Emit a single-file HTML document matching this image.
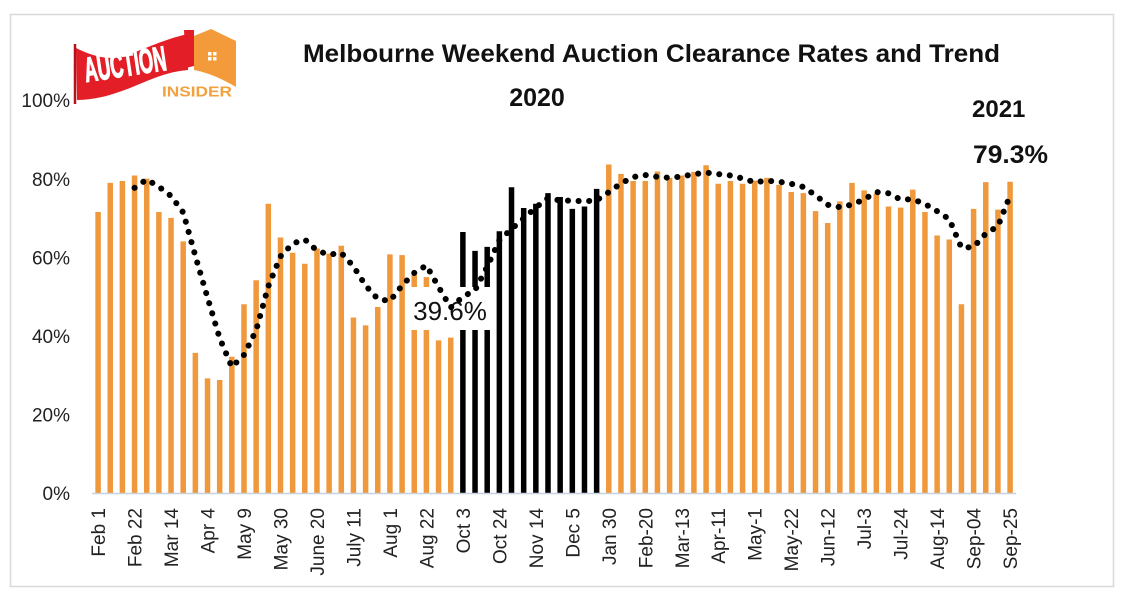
<!DOCTYPE html>
<html><head><meta charset="utf-8"><style>
html,body{margin:0;padding:0;background:#fff;}
svg{display:block;font-family:"Liberation Sans",Arial,sans-serif;}
</style></head><body>
<svg width="1130" height="602" viewBox="0 0 1130 602" xmlns="http://www.w3.org/2000/svg">
<rect x="0" y="0" width="1130" height="602" fill="#fff"/>
<rect x="10.5" y="14.5" width="1103" height="572" fill="none" stroke="#D9D9D9" stroke-width="1.5"/>
<g>
<path d="M76,48 C90,55 105,60 120,57 C140,52 160,40 188,34 L188,70 C165,72 150,80 130,88 C112,95 95,100 77,100 Z" fill="#E41E26"/>
<line x1="75" y1="44" x2="75" y2="104" stroke="#B3141B" stroke-width="2.5"/>
<path d="M184,30 L194,30 L194,66 L186,68 Z" fill="#E41E26"/>
<path d="M194,36 L211,29 L236,41 L236,87 C224,80 210,73 194,70 Z" fill="#F39B3A"/>
<path d="M208,52h3.5v3.5h-3.5zM213,52h3.5v3.5h-3.5zM208,57h3.5v3.5h-3.5zM213,57h3.5v3.5h-3.5z" fill="#fff"/>
<text transform="translate(86,82) rotate(-8.5) scale(0.55,1.05)" font-size="33" font-weight="bold" fill="#fff" stroke="#fff" stroke-width="1.2">AUCTION</text>
<text x="162" y="96.5" font-size="15" font-weight="bold" fill="#F2A13F" textLength="70" lengthAdjust="spacingAndGlyphs">INSIDER</text>
</g>
<text x="303" y="62" font-size="25" font-weight="bold" fill="#111" textLength="697" lengthAdjust="spacingAndGlyphs">Melbourne Weekend Auction Clearance Rates and Trend</text>
<text x="537" y="106" font-size="25" font-weight="bold" fill="#111" text-anchor="middle">2020</text>
<text x="972" y="117" font-size="24" font-weight="bold" fill="#111">2021</text>
<text x="973" y="163" font-size="25" font-weight="bold" fill="#111" textLength="75" lengthAdjust="spacingAndGlyphs">79.3%</text>
<g font-size="19" fill="#222" text-anchor="end">
<text x="70" y="107">100%</text>
<text x="70" y="186">80%</text>
<text x="70" y="264.5">60%</text>
<text x="70" y="343">40%</text>
<text x="70" y="421.5">20%</text>
<text x="70" y="500">0%</text>
</g>
<g transform="translate(98.08,493) scale(12.16,-3.925)">
<path fill="#F0983C" d="M-0.226 0h0.452v71.6h-0.452z M0.774 0h0.452v79h-0.452z M1.774 0h0.452v79.5h-0.452z M2.774 0h0.452v80.9h-0.452z M3.774 0h0.452v80.1h-0.452z M4.774 0h0.452v71.6h-0.452z M5.774 0h0.452v70.1h-0.452z M6.774 0h0.452v64.1h-0.452z M7.774 0h0.452v35.7h-0.452z M8.774 0h0.452v29.2h-0.452z M9.774 0h0.452v28.8h-0.452z M10.774 0h0.452v34.7h-0.452z M11.774 0h0.452v48.1h-0.452z M12.774 0h0.452v54.2h-0.452z M13.774 0h0.452v73.7h-0.452z M14.774 0h0.452v65.1h-0.452z M15.774 0h0.452v61.2h-0.452z M16.774 0h0.452v58.4h-0.452z M17.774 0h0.452v62.3h-0.452z M18.774 0h0.452v61h-0.452z M19.774 0h0.452v63h-0.452z M20.774 0h0.452v44.7h-0.452z M21.774 0h0.452v42.7h-0.452z M22.774 0h0.452v47.4h-0.452z M23.774 0h0.452v60.8h-0.452z M24.774 0h0.452v60.6h-0.452z M25.774 0h0.452v55.5h-0.452z M26.774 0h0.452v55h-0.452z M27.774 0h0.452v38.9h-0.452z M28.774 0h0.452v39.6h-0.452z M41.774 0h0.452v83.7h-0.452z M42.774 0h0.452v81.3h-0.452z M43.774 0h0.452v79.5h-0.452z M44.774 0h0.452v79.5h-0.452z M45.774 0h0.452v81.9h-0.452z M46.774 0h0.452v80.3h-0.452z M47.774 0h0.452v80.9h-0.452z M48.774 0h0.452v81.8h-0.452z M49.774 0h0.452v83.5h-0.452z M50.774 0h0.452v78.8h-0.452z M51.774 0h0.452v79.5h-0.452z M52.774 0h0.452v78.8h-0.452z M53.774 0h0.452v79.6h-0.452z M54.774 0h0.452v80.3h-0.452z M55.774 0h0.452v78.5h-0.452z M56.774 0h0.452v76.7h-0.452z M57.774 0h0.452v76.4h-0.452z M58.774 0h0.452v71.8h-0.452z M59.774 0h0.452v68.8h-0.452z M60.774 0h0.452v74.3h-0.452z M61.774 0h0.452v79h-0.452z M62.774 0h0.452v77.1h-0.452z M63.774 0h0.452v76.3h-0.452z M64.774 0h0.452v73h-0.452z M65.774 0h0.452v72.7h-0.452z M66.774 0h0.452v77.3h-0.452z M67.774 0h0.452v71.6h-0.452z M68.774 0h0.452v65.6h-0.452z M69.774 0h0.452v64.6h-0.452z M70.774 0h0.452v48.1h-0.452z M71.774 0h0.452v72.4h-0.452z M72.774 0h0.452v79.2h-0.452z M73.774 0h0.452v72.2h-0.452z M74.774 0h0.452v79.3h-0.452z"/>
<path fill="#000" d="M29.774 0h0.452v66.5h-0.452z M30.774 0h0.452v61.7h-0.452z M31.774 0h0.452v62.7h-0.452z M32.774 0h0.452v66.7h-0.452z M33.774 0h0.452v77.9h-0.452z M34.774 0h0.452v72.6h-0.452z M35.774 0h0.452v73.7h-0.452z M36.774 0h0.452v76.4h-0.452z M37.774 0h0.452v75.4h-0.452z M38.774 0h0.452v72.4h-0.452z M39.774 0h0.452v73h-0.452z M40.774 0h0.452v77.5h-0.452z"/>
</g>
<line x1="92" y1="493.5" x2="1016" y2="493.5" stroke="#C8D2DE" stroke-width="1.5"/>
<rect x="410" y="287" width="80" height="43" fill="#fff"/>
<text x="450" y="320" font-size="26" fill="#111" text-anchor="middle">39.6%</text>
<polyline fill="none" stroke="#000" stroke-width="6" stroke-linecap="round" stroke-linejoin="round" stroke-dasharray="0.1 10.5" points="134.56,187.83 146.72,179.49 158.88,186.75 171.04,195.98 183.2,212.46 195.36,256.03 207.52,297.63 219.68,338.16 231.84,367.01 244,354.84 256.16,330.31 268.32,286.25 280.48,256.42 292.64,243.57 304.8,239.44 316.96,250.63 329.12,254.65 341.28,252.89 353.44,266.33 365.6,285.56 377.76,298.91 389.92,301.07 402.08,285.47 414.24,272.91 426.4,265.45 438.56,286.94 450.72,307.54 462.88,296.75 475.04,290.18 487.2,266.82 499.36,240.23 511.52,229.04 523.68,218.35 535.84,207.55 548,198.04 560.16,200.49 572.32,200.69 584.48,201.37 596.64,200.29 608.8,192.15 620.96,183.42 633.12,177.04 645.28,175.07 657.44,176.84 669.6,177.82 681.76,176.45 693.92,174.19 706.08,172.62 718.24,174.09 730.4,175.47 742.56,178.41 754.72,182.24 766.88,180.77 779.04,181.75 791.2,183.81 803.36,186.95 815.52,195.29 827.68,204.81 839.84,207.16 852,204.61 864.16,199.41 876.32,192.05 888.48,193.33 900.64,199.51 912.8,199.31 924.96,203.92 937.12,211.18 949.28,219.13 961.44,247.79 973.6,247 985.76,233.66 997.92,226.2 1010.08,195.58"/>
<g font-size="19" fill="#222" text-anchor="end">
<text transform="translate(105.1,508) rotate(-90)">Feb 1</text>
<text transform="translate(141.6,508) rotate(-90)">Feb 22</text>
<text transform="translate(178,508) rotate(-90)">Mar 14</text>
<text transform="translate(214.5,508) rotate(-90)">Apr 4</text>
<text transform="translate(251,508) rotate(-90)">May 9</text>
<text transform="translate(287.5,508) rotate(-90)">May 30</text>
<text transform="translate(324,508) rotate(-90)">June 20</text>
<text transform="translate(360.4,508) rotate(-90)">July 11</text>
<text transform="translate(396.9,508) rotate(-90)">Aug 1</text>
<text transform="translate(433.4,508) rotate(-90)">Aug 22</text>
<text transform="translate(469.9,508) rotate(-90)">Oct 3</text>
<text transform="translate(506.4,508) rotate(-90)">Oct 24</text>
<text transform="translate(542.8,508) rotate(-90)">Nov 14</text>
<text transform="translate(579.3,508) rotate(-90)">Dec 5</text>
<text transform="translate(615.8,508) rotate(-90)">Jan 30</text>
<text transform="translate(652.3,508) rotate(-90)">Feb-20</text>
<text transform="translate(688.8,508) rotate(-90)">Mar-13</text>
<text transform="translate(725.2,508) rotate(-90)">Apr-11</text>
<text transform="translate(761.7,508) rotate(-90)">May-1</text>
<text transform="translate(798.2,508) rotate(-90)">May-22</text>
<text transform="translate(834.7,508) rotate(-90)">Jun-12</text>
<text transform="translate(871.2,508) rotate(-90)">Jul-3</text>
<text transform="translate(907.6,508) rotate(-90)">Jul-24</text>
<text transform="translate(944.1,508) rotate(-90)">Aug-14</text>
<text transform="translate(980.6,508) rotate(-90)">Sep-04</text>
<text transform="translate(1017.1,508) rotate(-90)">Sep-25</text>
</g>
</svg>
</body></html>
